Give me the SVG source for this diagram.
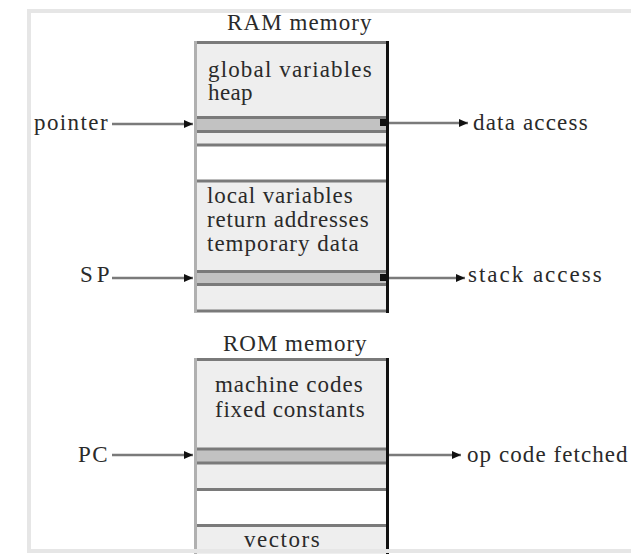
<svg xmlns="http://www.w3.org/2000/svg" width="631" height="554" viewBox="0 0 631 554" font-family="'Liberation Serif', 'DejaVu Serif', serif">
<defs>
<style>
text{font-family:'Liberation Serif','DejaVu Serif',serif;font-size:23px;fill:#2a2a2a;letter-spacing:0.4px}
.area{fill:#eeeeee}
.white{fill:#ffffff}
.band{fill:#c2c2c2}
.sep{stroke:#7a7a7a;stroke-width:3;fill:none}
.ledge{stroke:#b0b0b0;stroke-width:3;fill:none}
.redge{stroke:#111111;stroke-width:3;fill:none}
.conn{stroke:#7a7a7a;stroke-width:2.5;fill:none}
.frame{stroke:#e6e6e6;stroke-width:4;fill:none}
</style>
<marker id="arr" markerUnits="userSpaceOnUse" markerWidth="9" markerHeight="8" refX="9" refY="4" orient="auto">
<path d="M0,0 L9,4 L0,8 Z" fill="#111"/>
</marker>
</defs>
<rect width="631" height="554" fill="#ffffff"/>
<path class="frame" d="M633,11 H29 V551 H633"/>

<g id="ram-memory">
<text x="227" y="30" textLength="145">RAM memory</text>
<rect class="area" x="194" y="42" width="194" height="270"/>
<rect class="white" x="194" y="146" width="194" height="35"/>
<rect class="band" x="194" y="118" width="194" height="13"/>
<rect class="band" x="194" y="272" width="194" height="12"/>
<path class="sep" d="M194,42.5 H388 M194,117.5 H388 M194,131.5 H388 M194,145 H388 M194,181 H388 M194,271.5 H388 M194,284.5 H388 M194,311 H388"/>
<path class="ledge" d="M195.5,41 V312.5"/>
<path class="redge" d="M387.5,41 V313"/>
<text x="208" y="77" textLength="164">global variables</text>
<text x="208" y="100">heap</text>
<text x="207" y="203" textLength="146">local variables</text>
<text x="207" y="227" textLength="162">return addresses</text>
<text x="207" y="251" textLength="152">temporary data</text>
<rect x="380" y="119" width="6" height="7" fill="#111"/>
<rect x="380" y="274" width="6" height="7" fill="#111"/>
</g>

<g id="rom-memory">
<text x="223" y="351" textLength="144">ROM memory</text>
<rect class="area" x="194" y="359" width="194" height="195"/>
<rect class="white" x="194" y="491" width="194" height="33"/>
<rect class="band" x="194" y="450" width="194" height="12"/>
<path class="sep" d="M194,359.5 H388 M194,449 H388 M194,463 H388 M194,489.5 H388 M194,525.5 H388"/>
<path class="ledge" d="M195.5,358 V554"/>
<path class="redge" d="M387.5,358 V554"/>
<text x="215" y="392" textLength="148">machine codes</text>
<text x="215" y="417" textLength="150">fixed constants</text>
<text x="244" y="547" textLength="76">vectors</text>
</g>

<g id="pointer"><text x="34" y="130" textLength="74">pointer</text></g>
<g id="sp"><text x="80" y="282" textLength="30">SP</text></g>
<g id="pc"><text x="78" y="462" textLength="30">PC</text></g>
<g id="data-access"><text x="473" y="130" textLength="115">data access</text></g>
<g id="stack-access"><text x="468" y="282" textLength="134">stack access</text></g>
<g id="op-code-fetched"><text x="467" y="462" textLength="161">op code fetched</text></g>

<path class="frame" d="M29,551 H633"/>

<g id="connectors">
<line class="conn" x1="112" y1="124" x2="193" y2="124" marker-end="url(#arr)"/>
<line class="conn" x1="389" y1="123" x2="468" y2="123" marker-end="url(#arr)"/>
<line class="conn" x1="112" y1="278" x2="193" y2="278" marker-end="url(#arr)"/>
<line class="conn" x1="389" y1="278" x2="465" y2="278" marker-end="url(#arr)"/>
<line class="conn" x1="112" y1="455" x2="193" y2="455" marker-end="url(#arr)"/>
<line class="conn" x1="389" y1="455" x2="461" y2="455" marker-end="url(#arr)"/>
</g>
</svg>
